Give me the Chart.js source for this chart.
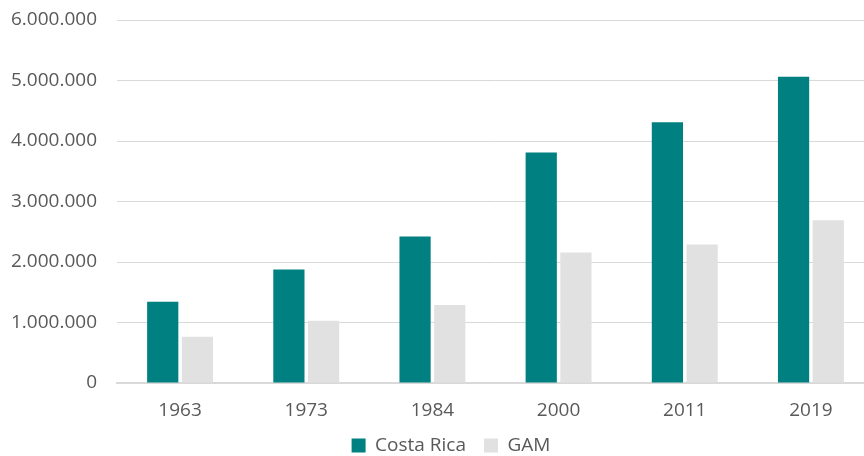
<!DOCTYPE html>
<html>
<head>
<meta charset="utf-8">
<script src="https://cdn.jsdelivr.net/npm/chart.js@4/dist/chart.umd.min.js"></script>
<style>
  html, body { margin: 0; padding: 0; background: #fff; overflow: hidden; }
  #wrap { position: relative; width: 874px; height: 456px; }
</style>
</head>
<body>
<div id="wrap"><canvas id="c"></canvas></div>
<script>
// Population by census year: whole country vs. the Greater Metropolitan Area
const years = ['1963', '1973', '1984', '2000', '2011', '2019'];
const costaRica = [1343000, 1874000, 2420000, 3810000, 4310000, 5060000];
const gam = [763000, 1028000, 1290000, 2156000, 2290000, 2690000];
const yTicks = [0, 1000000, 2000000, 3000000, 4000000, 5000000, 6000000];

const textColor = '#595959';
const gridColor = '#d9d9d9';
const font = { family: '"Open Sans", "Liberation Sans", sans-serif', size: 19 };

// thousands separated with dots
const fmt = v => String(v).replace(/\B(?=(\d{3})+(?!\d))/g, '.');

// centre the legend over the plot area instead of the whole canvas
const legendOffset = {
  id: 'legendOffset',
  afterLayout(chart) {
    if (chart.legend) chart.legend.left += 28;
  }
};

new Chart(document.getElementById('c'), {
  type: 'bar',
  data: {
    labels: years,
    datasets: [
      { label: 'Costa Rica', data: costaRica, backgroundColor: '#008080' },
      { label: 'GAM', data: gam, backgroundColor: '#e1e1e1' }
    ]
  },
  plugins: [legendOffset],
  options: {
    responsive: true,
    maintainAspectRatio: false,
    animation: false,
    layout: { padding: { top: 20, bottom: 0, right: 0, left: 0 } },
    datasets: { bar: { categoryPercentage: 0.55, barPercentage: 0.9 } },
    plugins: {
      tooltip: { enabled: false },
      legend: {
        position: 'bottom',
        maxHeight: 38,
        labels: {
          color: textColor,
          font: font,
          boxWidth: 14,
          boxHeight: 14,
          padding: 18
        }
      }
    },
    scales: {
      x: {
        grid: { display: false, drawTicks: false },
        border: { display: true, color: gridColor, width: 2 },
        ticks: { color: textColor, font: font, padding: 16 },
        afterFit: s => { s.height = 35; }
      },
      y: {
        min: 0,
        max: 6000000,
        afterBuildTicks: s => { s.ticks = yTicks.map(v => ({ value: v })); },
        grid: { color: gridColor, lineWidth: 1, drawTicks: false },
        border: { display: false },
        ticks: { color: textColor, font: font, padding: 20, callback: v => fmt(v) },
        afterFit: s => { s.width = 117; s.paddingTop = 0; }
      }
    }
  }
});
</script>
</body>
</html>
